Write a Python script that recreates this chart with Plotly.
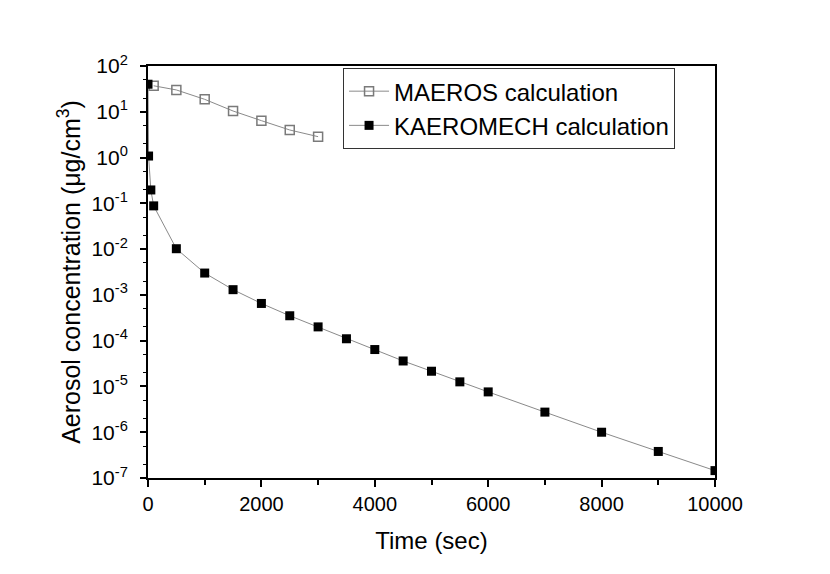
import plotly.graph_objects as go

maeros_time = [100, 500, 1000, 1500, 2000, 2500, 3000]
maeros_conc = [37, 30, 18.7, 10.4, 6.4, 4.0, 2.86]

kaero_time = [0, 10, 50, 100, 500, 1000, 1500, 2000, 2500, 3000, 3500, 4000,
              4500, 5000, 5500, 6000, 7000, 8000, 9000, 10000]
kaero_conc = [40, 1.08, 0.196, 0.088, 0.0102, 0.003, 1.3e-3, 6.5e-4, 3.5e-4,
              2.0e-4, 1.1e-4, 6.4e-5, 3.6e-5, 2.15e-5, 1.26e-5, 7.6e-6,
              2.75e-6, 1.0e-6, 3.8e-7, 1.45e-7]

y_exps = [-7, -6, -5, -4, -3, -2, -1, 0, 1, 2]
y_tickvals = [10.0 ** e for e in y_exps]
y_ticktext = ["10<sup>%d</sup>" % e for e in y_exps]
x_tickvals = [0, 2000, 4000, 6000, 8000, 10000]
x_ticktext = ["0", "2000", "4000", "6000", "8000", "10000"]

font_family = "Liberation Sans, Arial, sans-serif"

fig = go.Figure()
fig.add_trace(go.Scatter(
    x=maeros_time, y=maeros_conc, name="MAEROS calculation",
    mode="lines+markers",
    line=dict(color="#8a8a8a", width=1),
    marker=dict(symbol="square-open", size=9, color="#7a7a7a", line=dict(width=1.5)),
))
fig.add_trace(go.Scatter(
    x=kaero_time, y=kaero_conc, name="KAEROMECH calculation",
    mode="lines+markers",
    line=dict(color="#8a8a8a", width=1),
    marker=dict(symbol="square", size=9, color="black"),
))

fig.update_layout(
    width=830, height=574,
    margin=dict(l=140, r=123, t=58, b=104),
    paper_bgcolor="white", plot_bgcolor="white",
    font=dict(family=font_family, color="black", size=20),
    showlegend=True,
    legend=dict(
        x=0.344, y=0.995, xanchor="left", yanchor="top",
        bgcolor="white", bordercolor="#333333", borderwidth=1,
        font=dict(size=24, family=font_family),
        tracegroupgap=0, itemwidth=40,
    ),
)

fig.update_xaxes(
    range=[0, 10000],
    tickvals=x_tickvals, ticktext=x_ticktext,
    ticks="outside", ticklen=7, tickwidth=1.5, tickcolor="black",
    minor=dict(dtick=1000, ticks="outside", ticklen=5, tickwidth=1.5, tickcolor="black", showgrid=False),
    showline=True, linecolor="black", linewidth=2, mirror=True,
    showgrid=False, zeroline=False,
    tickfont=dict(size=20),
    title=dict(text="Time (sec)", font=dict(size=24), standoff=18),
)
fig.update_yaxes(
    type="log", range=[-7, 2],
    tickvals=y_tickvals, ticktext=y_ticktext,
    ticks="outside", ticklen=6, tickwidth=1.5, tickcolor="black",
    ticklabelstandoff=8,
    minor=dict(ticks="outside", ticklen=3, tickwidth=1, tickcolor="black", showgrid=False),
    showline=True, linecolor="black", linewidth=2, mirror=True,
    showgrid=False, zeroline=False,
    tickfont=dict(size=21),
    title=dict(text="Aerosol concentration (\u03bcg/cm<sup>3</sup>)", font=dict(size=25), standoff=4),
)

fig.write_html("out.html")
